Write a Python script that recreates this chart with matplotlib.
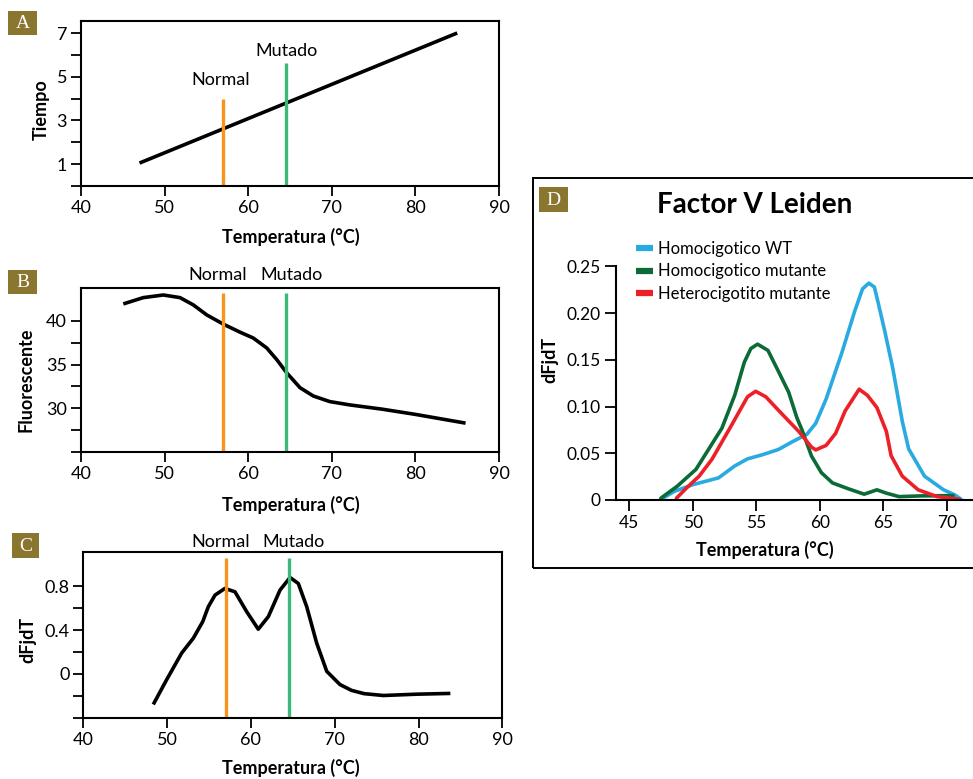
import matplotlib
matplotlib.use('Agg')
import matplotlib.pyplot as plt
from matplotlib.patches import Rectangle

plt.rcParams['font.family'] = ['Lato', 'DejaVu Sans']
plt.rcParams['lines.solid_joinstyle'] = 'round'
plt.rcParams['lines.solid_capstyle'] = 'round'

W, H = 973, 779

# panel A: time vs temperature
a_temp = [47.0, 85.0]
a_time = [1.05, 7.0]

# panel B: fluorescence curve
b_temp = [45.06, 47.45, 49.85, 51.84, 53.43, 55.03, 57.02, 59.02, 60.61, 62.21, 63.41, 64.6, 66.2, 67.79, 69.78, 72.18, 76.0, 80.0, 83.0, 86.0]
b_fluo = [41.93, 42.65, 42.95, 42.65, 41.82, 40.68, 39.62, 38.7, 38.03, 36.9, 35.57, 34.06, 32.35, 31.4, 30.76, 30.38, 29.9, 29.3, 28.8, 28.3]

# panel C: derivative curve
c_temp = [48.35, 49.95, 51.74, 53.13, 54.25, 54.92, 55.72, 56.9, 58.1, 59.5, 60.88, 62.08, 63.47, 64.67, 65.66, 66.66, 67.85, 69.05, 70.63, 72.0, 73.5, 75.8, 79.8, 83.8]
c_dfdt = [-0.279, -0.052, 0.191, 0.327, 0.478, 0.615, 0.721, 0.782, 0.751, 0.569, 0.409, 0.524, 0.766, 0.882, 0.827, 0.615, 0.282, 0.024, -0.097, -0.15, -0.18, -0.197, -0.185, -0.178]

normal_t = 57.0
mutado_t = 64.5

# panel D: Factor V Leiden
wt_temp = [47.65, 48.52, 50.0, 52.03, 53.3, 54.31, 55.5, 56.74, 57.8, 59.0, 59.68, 60.5, 61.75, 62.75, 63.37, 63.87, 64.3, 64.63, 65.13, 65.75, 66.5, 67.0, 68.25, 69.75, 70.63, 71.13]
wt_val = [0.0019, 0.0091, 0.0164, 0.0237, 0.0364, 0.044, 0.0485, 0.054, 0.062, 0.0705, 0.082, 0.108, 0.158, 0.2019, 0.2259, 0.232, 0.2278, 0.2093, 0.180, 0.141, 0.0842, 0.0547, 0.0255, 0.0109, 0.0055, 0.0008]

hom_temp = [47.48, 48.76, 50.25, 50.76, 52.29, 53.3, 54.06, 54.57, 55.1, 55.92, 56.74, 57.55, 58.2, 58.6, 59.35, 60.13, 61.0, 62.25, 63.5, 64.5, 65.25, 66.25, 68.0, 70.5]
hom_val = [0.0019, 0.0146, 0.0328, 0.0438, 0.0768, 0.112, 0.1475, 0.162, 0.1667, 0.160, 0.1377, 0.1153, 0.0879, 0.075, 0.047, 0.0292, 0.0183, 0.012, 0.0062, 0.0109, 0.0073, 0.0036, 0.0044, 0.0047]

het_temp = [48.71, 49.5, 50.5, 51.52, 53.05, 54.31, 54.95, 55.75, 57.06, 58.37, 59.35, 59.68, 60.5, 61.25, 62.0, 63.1, 63.75, 64.5, 65.25, 65.62, 66.5, 67.75, 69.25, 71.0]
het_val = [0.0019, 0.0128, 0.0255, 0.0438, 0.080, 0.1104, 0.1163, 0.1104, 0.0915, 0.073, 0.0566, 0.0536, 0.0584, 0.0713, 0.0953, 0.1185, 0.112, 0.0989, 0.0732, 0.0474, 0.0255, 0.0109, 0.0036, 0.0008]

d_labels = ['Homocigotico WT', 'Homocigotico mutante', 'Heterocigotito mutante']
d_colors = ['#29abe2', '#0b6b37', '#ed2027']

ORANGE = '#f7941d'
GREEN = '#3cb878'
GOLD = '#8b7630'


def fig_ax(left, top, right, bottom):
    return fig.add_axes([left / W, 1 - bottom / H, (right - left) / W, (bottom - top) / H])


def ftext(x, y, s, **kw):
    fig.text(x / W, 1 - y / H, s, ha='center', va='center', **kw)


def panel_tag(x0, y0, x1, y1, letter):
    fig.patches.append(Rectangle((x0 / W, 1 - y1 / H), (x1 - x0) / W, (y1 - y0) / H,
                                 transform=fig.transFigure, facecolor=GOLD, edgecolor='none'))
    ftext((x0 + x1) / 2, (y0 + y1) / 2 + 1, letter, color='white', fontsize=14,
          family='Liberation Serif')


def style_box(ax):
    for s in ax.spines.values():
        s.set_linewidth(1.5)
    ax.tick_params(direction='out', length=7, width=1.3, labelsize=13, pad=3)


fig = plt.figure(figsize=(W / 100, H / 100), dpi=100)

# ---- A ----
ax = fig_ax(81, 21, 499, 186)
ax.plot(a_temp, a_time, color='black', lw=2.6, solid_capstyle='butt')
ax.plot([normal_t, normal_t], [0, 4.0], color=ORANGE, lw=2.4, solid_capstyle='butt')
ax.plot([mutado_t, mutado_t], [0, 5.62], color=GREEN, lw=2.4, solid_capstyle='butt')
ax.text(56.7, 4.86, 'Normal', ha='center', va='center', fontsize=13)
ax.text(64.6, 6.16, 'Mutado', ha='center', va='center', fontsize=13)
ax.set_xlim(40, 90)
ax.set_ylim(0, 7.55)
ax.set_xticks(range(40, 91, 10))
ax.set_yticks(range(0, 8))
ax.set_yticklabels(['' if v % 2 == 0 else str(v) for v in range(0, 8)])
style_box(ax)
ftext(291, 237, 'Temperatura (°C)', fontsize=13, fontweight='bold')
ftext(41, 110, 'Tiempo', fontsize=13, fontweight='bold', rotation=90)
panel_tag(8, 11, 37, 35, 'A')

# ---- B ----
ax = fig_ax(81, 288, 499, 452)
ax.plot(b_temp, b_fluo, color='black', lw=2.6, solid_capstyle='butt')
ax.plot([normal_t, normal_t], [25.1, 43.2], color=ORANGE, lw=2.4, solid_capstyle='butt')
ax.plot([mutado_t, mutado_t], [25.1, 43.2], color=GREEN, lw=2.4, solid_capstyle='butt')
ax.set_xlim(40, 90)
ax.set_ylim(25.1, 43.75)
ax.set_xticks(range(40, 91, 10))
yt = [25, 27.5, 30, 32.5, 35, 37.5, 40]
ax.set_yticks(yt)
ax.set_yticklabels(['30' if v == 30 else '35' if v == 35 else '40' if v == 40 else '' for v in yt])
style_box(ax)
ftext(217.5, 275, 'Normal', fontsize=13)
ftext(291.7, 275, 'Mutado', fontsize=13)
ftext(291, 505, 'Temperatura (°C)', fontsize=13, fontweight='bold')
ftext(26, 380, 'Fluorescente', fontsize=13, fontweight='bold', rotation=90)
panel_tag(8, 270, 37, 294, 'B')

# ---- C ----
ax = fig_ax(83.3, 552, 502.3, 717.7)
ax.plot(c_temp, c_dfdt, color='black', lw=2.6, solid_capstyle='butt')
ax.plot([normal_t, normal_t], [-0.395, 1.058], color=ORANGE, lw=2.4, solid_capstyle='butt')
ax.plot([64.6, 64.6], [-0.395, 1.058], color=GREEN, lw=2.4, solid_capstyle='butt')
ax.set_xlim(40, 90)
ax.set_ylim(-0.395, 1.115)
ax.set_xticks(range(40, 91, 10))
yt = [-0.4, -0.2, 0.0, 0.2, 0.4, 0.6, 0.8]
ax.set_yticks(yt)
ax.set_yticklabels(['', '', '0', '', '0.4', '', '0.8'])
style_box(ax)
ftext(220.8, 541.7, 'Normal', fontsize=13)
ftext(294, 541.7, 'Mutado', fontsize=13)
ftext(291, 768, 'Temperatura (°C)', fontsize=13, fontweight='bold')
ftext(28, 640, 'dFjdT', fontsize=13, fontweight='bold', rotation=90)
panel_tag(12, 533, 39, 558, 'C')

# ---- D ----
fig.patches.append(Rectangle((533 / W, 1 - 568 / H), 460 / W, 390 / H,
                             transform=fig.transFigure, facecolor='none',
                             edgecolor='black', lw=1.4))
ax = fig_ax(616, 266.3, 973, 500)
for t, v, lab, col in zip([wt_temp, hom_temp, het_temp], [wt_val, hom_val, het_val], d_labels, d_colors):
    ax.plot(t, v, color=col, lw=2.6, label=lab, clip_on=False)
ax.set_xlim(43.95, 72.07)
ax.set_ylim(0, 0.25)
ax.set_xticks(range(45, 71, 5))
ax.set_yticks([0, 0.05, 0.10, 0.15, 0.20, 0.25])
ax.set_yticklabels(['0', '0.05', '0.10', '0.15', '0.20', '0.25'])
ax.spines['top'].set_visible(False)
ax.spines['right'].set_visible(False)
ax.spines['left'].set_linewidth(1.5)
ax.spines['bottom'].set_linewidth(1.5)
ax.tick_params(direction='out', length=8, width=1.3, labelsize=12.5, pad=3)
ax.patch.set_visible(False)
leg = fig.legend(loc='upper left', bbox_to_anchor=(636 / W, 1 - 241 / H), frameon=False,
                 fontsize=12, handlelength=1.0, handletextpad=0.3, labelspacing=0.38,
                 borderaxespad=0, borderpad=0)
for line in leg.get_lines():
    line.set_linewidth(4.5)
    line.set_solid_capstyle('butt')
ftext(755, 205, 'Factor V Leiden', fontsize=20, fontweight='bold')
ftext(765, 550, 'Temperatura (°C)', fontsize=13, fontweight='bold')
ftext(550, 360, 'dFjdT', fontsize=13, fontweight='bold', rotation=90)
panel_tag(539, 187, 568, 212, 'D')

fig.savefig('out.png', dpi=100)
